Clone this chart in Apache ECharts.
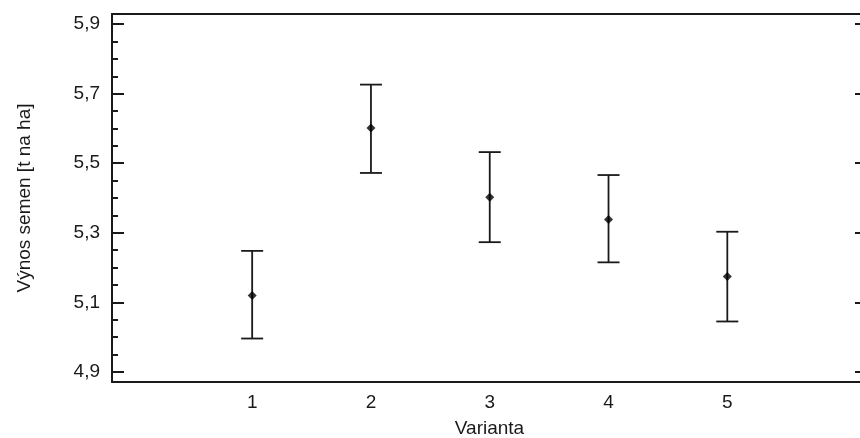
<!DOCTYPE html>
<html>
<head>
<meta charset="utf-8">
<script src="https://cdn.jsdelivr.net/npm/echarts@6/dist/echarts.min.js"></script>
<style>
  html, body { margin: 0; padding: 0; background: #fff; }
  #chart { width: 860px; height: 438px; }
</style>
</head>
<body>
<div id="chart"></div>
<script>
// values
const variants = [1, 2, 3, 4, 5];
const means = [5.120, 5.601, 5.402, 5.338, 5.174];
const lower = [4.996, 5.472, 5.273, 5.215, 5.045];
const upper = [5.248, 5.726, 5.532, 5.466, 5.303];

// tick positions
const xLabels = [1, 2, 3, 4, 5];
const yMajorTicks = [4.9, 5.1, 5.3, 5.5, 5.7, 5.9];
const yMinorTicks = [4.95, 5.0, 5.05, 5.15, 5.2, 5.25, 5.35, 5.4, 5.45,
  5.55, 5.6, 5.65, 5.75, 5.8, 5.85];

const ink = '#1a1a1a';
const font = { fontFamily: 'Liberation Sans', fontSize: 19, color: ink };

const chart = echarts.init(document.getElementById('chart'));

const errData = variants.map((v, i) => [v, lower[i], upper[i]]);
const pointData = variants.map((v, i) => [v, means[i]]);

const X_MIN = -0.18, X_MAX = 6.176, Y_MIN = 4.871, Y_MAX = 5.929;
const gridBox = { left: 112, right: -7, top: 14, bottom: 56, outerBoundsMode: 'none' };
const noSplit = { show: false };
const tickStyle = { color: ink, width: 2 };

chart.setOption({
  animation: false,
  // second grid sits on the first one, only to carry the minor ticks
  grid: [ { ...gridBox }, { ...gridBox } ],
  xAxis: [
    {
      gridIndex: 0, type: 'value', min: X_MIN, max: X_MAX,
      name: 'Varianta', nameLocation: 'middle', nameGap: 37,
      nameTextStyle: font,
      axisLine: { onZero: false, lineStyle: { color: ink, width: 2 } },
      axisTick: { show: false },
      axisLabel: { customValues: xLabels, margin: 11, ...font },
      splitLine: noSplit
    },
    {
      gridIndex: 0, type: 'value', position: 'top', min: X_MIN, max: X_MAX,
      axisLine: { onZero: false, lineStyle: { color: ink, width: 2 } },
      axisTick: { show: false }, axisLabel: { show: false },
      splitLine: noSplit
    },
    {
      gridIndex: 1, type: 'value', min: X_MIN, max: X_MAX, show: false
    }
  ],
  yAxis: [
    {
      gridIndex: 0, type: 'value', position: 'left', min: Y_MIN, max: Y_MAX,
      name: 'Výnos semen [t na ha]', nameLocation: 'middle', nameGap: 78,
      nameTextStyle: font,
      axisLine: { show: true, onZero: false, lineStyle: { color: ink, width: 2 } },
      axisTick: { show: true, inside: true, length: 12, customValues: yMajorTicks,
        lineStyle: tickStyle },
      axisLabel: { customValues: yMajorTicks, margin: 12, ...font,
        formatter: v => v.toFixed(1).replace('.', ',') },
      splitLine: noSplit
    },
    {
      gridIndex: 0, type: 'value', position: 'right', min: Y_MIN, max: Y_MAX,
      axisLine: { show: false, onZero: false },
      axisTick: { show: true, inside: true, length: 12, customValues: yMajorTicks,
        lineStyle: tickStyle },
      axisLabel: { show: false },
      splitLine: noSplit
    },
    {
      gridIndex: 1, type: 'value', position: 'left', min: Y_MIN, max: Y_MAX,
      axisLine: { show: false, onZero: false },
      axisTick: { show: true, inside: true, length: 6, customValues: yMinorTicks,
        lineStyle: tickStyle },
      axisLabel: { show: false },
      splitLine: noSplit
    }
  ],
  series: [
    {
      type: 'custom',
      xAxisIndex: 0, yAxisIndex: 0,
      data: errData,
      renderItem: (params, api) => {
        const x = api.value(0);
        const lo = api.coord([x, api.value(1)]);
        const hi = api.coord([x, api.value(2)]);
        const w = 11;
        const style = { stroke: ink, lineWidth: 1.8 };
        return {
          type: 'group',
          children: [
            { type: 'line', shape: { x1: lo[0], y1: lo[1], x2: hi[0], y2: hi[1] }, style },
            { type: 'line', shape: { x1: hi[0] - w, y1: hi[1], x2: hi[0] + w, y2: hi[1] }, style },
            { type: 'line', shape: { x1: lo[0] - w, y1: lo[1], x2: lo[0] + w, y2: lo[1] }, style }
          ]
        };
      },
      z: 2
    },
    {
      type: 'scatter',
      xAxisIndex: 0, yAxisIndex: 0,
      data: pointData,
      symbol: 'diamond',
      symbolSize: 9,
      itemStyle: { color: '#000' },
      z: 3
    }
  ]
});
</script>
</body>
</html>
